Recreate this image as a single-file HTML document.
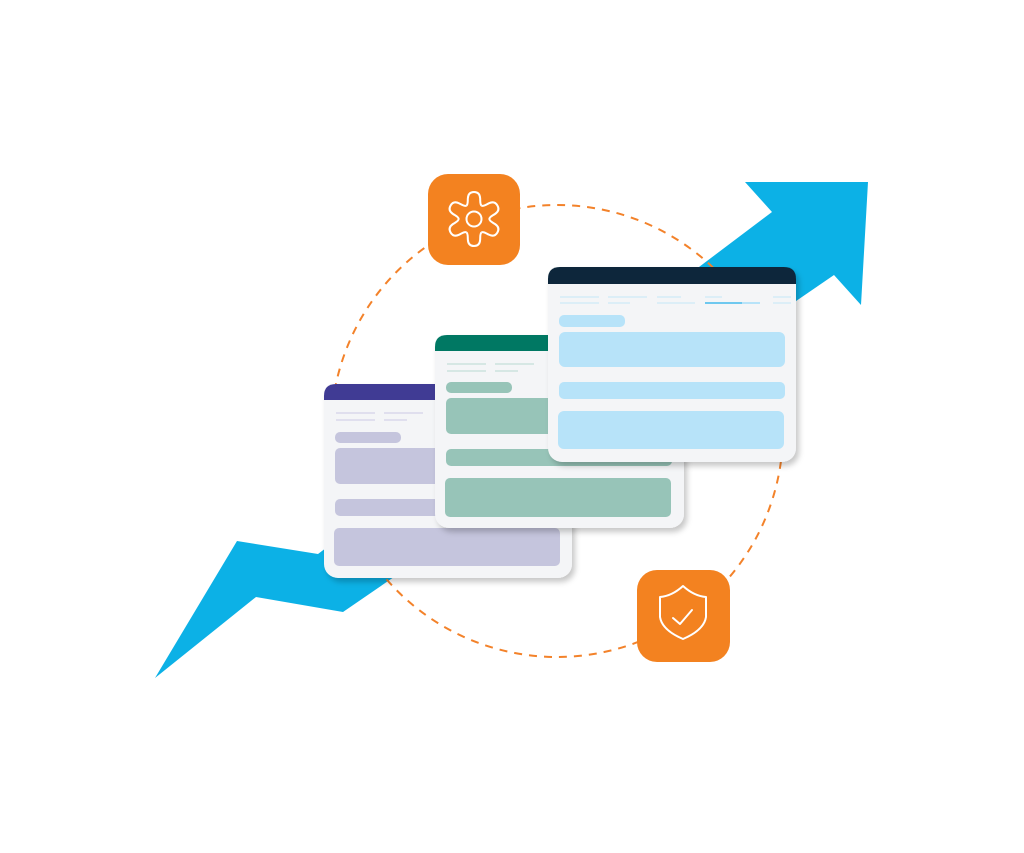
<!DOCTYPE html>
<html><head><meta charset="utf-8"><style>html,body{margin:0;padding:0;background:#fff;}svg{display:block}</style></head>
<body>
<svg width="1024" height="853" viewBox="0 0 1024 853" xmlns="http://www.w3.org/2000/svg">
<defs>
<filter id="sh" x="-10%" y="-10%" width="125%" height="130%"><feDropShadow dx="3" dy="4" stdDeviation="3" flood-color="#000" flood-opacity="0.22"/></filter>
<path id="lobe" d="M-7.25,-12.56 C-5.5,-13.6 -6,-17 -5.8,-19.5 C-5.5,-24.5 -2.8,-25.5 0,-25.5 C2.8,-25.5 5.5,-24.5 5.8,-19.5 C6,-17 5.5,-13.6 7.25,-12.56" fill="none" stroke="#fff" stroke-width="1.9" stroke-linejoin="round"/>
</defs>
<polygon fill="#0cb1e6" points="155,678 237,541 318,554 772,212 745,182 868,182 861,305 834,275 343,612 256,597"/>
<circle cx="557" cy="431" r="226" fill="none" stroke="#f3822a" stroke-width="2" stroke-dasharray="8 7"/>
<rect x="428" y="174" width="92" height="91" rx="20" fill="#f38220"/>
<g transform="translate(474,219) scale(1.06)">
<use href="#lobe"/><use href="#lobe" transform="rotate(60)"/><use href="#lobe" transform="rotate(120)"/><use href="#lobe" transform="rotate(180)"/><use href="#lobe" transform="rotate(240)"/><use href="#lobe" transform="rotate(300)"/>
</g>
<circle cx="474" cy="219" r="7.5" fill="none" stroke="#fff" stroke-width="2"/>
<rect x="637" y="570" width="93" height="92" rx="20" fill="#f38220"/>
<path d="M683,586 Q672,596 660,597 L660,617 Q662,630 683,639 Q704,630 706,617 L706,597 Q694,596 683,586 Z" fill="none" stroke="#fff" stroke-width="2" stroke-linejoin="round"/>
<polyline points="673,618 680,624 692,610" fill="none" stroke="#fff" stroke-width="2" stroke-linecap="round" stroke-linejoin="round"/>
<g filter="url(#sh)">
<rect x="324" y="384" width="248" height="194" rx="14" fill="#f4f5f7"/>
<path d="M324,400 L324,396 Q324,384 336,384 L560,384 Q572,384 572,396 L572,400 Z" fill="#403a94"/>
</g>
<g stroke="#d4d2e8" stroke-width="1.2"><line x1="336" y1="413" x2="375" y2="413"/><line x1="384" y1="413" x2="423" y2="413"/><line x1="336" y1="420" x2="375" y2="420"/><line x1="384" y1="420" x2="407" y2="420"/></g>
<rect x="335" y="432" width="66" height="11" rx="5" fill="#c5c5dd"/>
<rect x="335" y="448" width="110" height="36" rx="5" fill="#c5c5dd"/>
<rect x="335" y="499" width="110" height="17" rx="5" fill="#c5c5dd"/>
<rect x="334" y="528" width="226" height="38" rx="5" fill="#c5c5dd"/>
<g filter="url(#sh)">
<rect x="435" y="335" width="249" height="193" rx="14" fill="#f4f5f7"/>
<path d="M435,351 L435,347 Q435,335 447,335 L672,335 Q684,335 684,347 L684,351 Z" fill="#047864"/>
</g>
<g stroke="#c4dfd8" stroke-width="1.2"><line x1="447" y1="364" x2="486" y2="364"/><line x1="495" y1="364" x2="534" y2="364"/><line x1="447" y1="371" x2="486" y2="371"/><line x1="495" y1="371" x2="518" y2="371"/></g>
<rect x="446" y="382" width="66" height="11" rx="5" fill="#97c4b8"/>
<rect x="446" y="398" width="120" height="36" rx="5" fill="#97c4b8"/>
<rect x="446" y="449" width="226" height="17" rx="5" fill="#97c4b8"/>
<rect x="445" y="478" width="226" height="39" rx="5" fill="#97c4b8"/>
<g filter="url(#sh)">
<rect x="548" y="267" width="248" height="195" rx="14" fill="#f4f5f7"/>
<path d="M548,284 L548,279 Q548,267 560,267 L784,267 Q796,267 796,279 L796,284 Z" fill="#09283b"/>
</g>
<g stroke="#cde9f7" stroke-width="1.2"><line x1="560" y1="297" x2="599" y2="297"/><line x1="608" y1="297" x2="647" y2="297"/><line x1="657" y1="297" x2="681" y2="297"/><line x1="705" y1="297" x2="722" y2="297"/><line x1="773" y1="297" x2="791" y2="297"/><line x1="560" y1="303" x2="599" y2="303"/><line x1="608" y1="303" x2="630" y2="303"/><line x1="657" y1="303" x2="695" y2="303"/><line x1="773" y1="303" x2="791" y2="303"/></g>
<line x1="705" y1="303" x2="760" y2="303" stroke="#b7e3f9" stroke-width="2"/>
<line x1="705" y1="303" x2="742" y2="303" stroke="#6ec8ef" stroke-width="2"/>
<rect x="559" y="315" width="66" height="12" rx="5" fill="#b7e3f9"/>
<rect x="559" y="332" width="226" height="35" rx="6" fill="#b7e3f9"/>
<rect x="559" y="382" width="226" height="17" rx="5" fill="#b7e3f9"/>
<rect x="558" y="411" width="226" height="38" rx="6" fill="#b7e3f9"/>
</svg>
</body></html>
